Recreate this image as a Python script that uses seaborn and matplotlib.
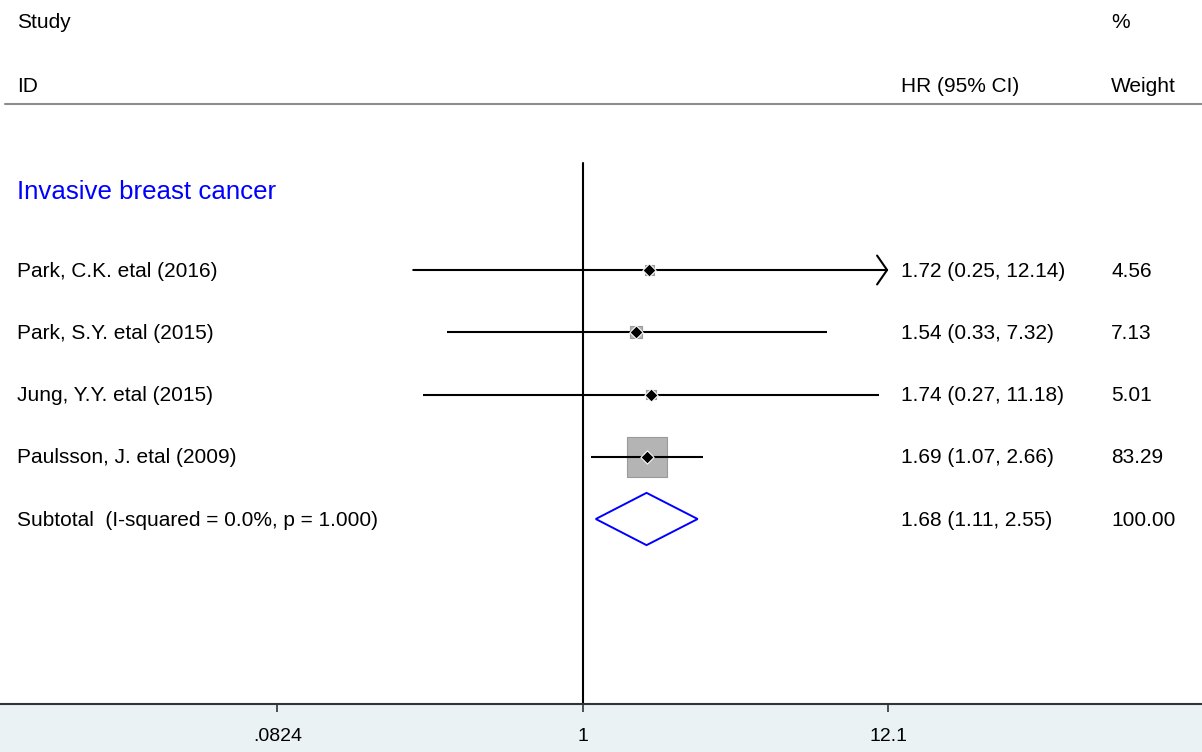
import numpy as np
import matplotlib
matplotlib.use('Agg')
import matplotlib.pyplot as plt
import matplotlib.transforms as mtransforms
from matplotlib.patches import Polygon
from matplotlib.ticker import NullLocator, FixedLocator, FixedFormatter
import seaborn as sns

# data
group_label = 'Invasive breast cancer'
studies = ['Park, C.K. etal (2016)', 'Park, S.Y. etal (2015)',
           'Jung, Y.Y. etal (2015)', 'Paulsson, J. etal (2009)']
hr = [1.72, 1.54, 1.74, 1.69]
ci_low = [0.25, 0.33, 0.27, 1.07]
ci_high = [12.14, 7.32, 11.18, 2.66]
weights = [4.56, 7.13, 5.01, 83.29]

subtotal_label = 'Subtotal  (I-squared = 0.0%, p = 1.000)'
subtotal_hr = 1.68
subtotal_low = 1.11
subtotal_high = 2.55
subtotal_weight = 100.00

tick_values = [0.0824, 1, 12.1]
tick_labels = ['.0824', '1', '12.1']

sns.set_theme(style='white')
plt.rcParams['font.family'] = ['Liberation Sans', 'DejaVu Sans']
plt.rcParams['text.color'] = 'black'
plt.rcParams['xtick.color'] = 'black'
fs = 15

W, H = 1202, 752
fig = plt.figure(figsize=(W / 100, H / 100), dpi=100, facecolor='#EAF2F3')
ax = fig.add_axes([0, 48 / H, 1, 704 / H])
ax.set_facecolor('white')

# log x axis: 1 sits at x=583 px, 282 px per decade
ax.set_xscale('log')
ax.set_xlim(10 ** (-583 / 282), 10 ** ((W - 583) / 282))
# rows: study 1 at 270 px, 62.25 px per row, axes 704 px tall
ax.set_ylim(1 + (704 - 270) / 62.25, 1 - 270 / 62.25)

rows = np.arange(1, len(studies) + 1)
sub_row = len(studies) + 1
clip = max(tick_values)

bt = mtransforms.blended_transform_factory(ax.transAxes, ax.transData)

def px(x):
    return x / W

def py(y):
    return 1 + (y - 270) / 62.25

# header
ax.text(px(17), py(23), 'Study', transform=bt, fontsize=fs, va='center')
ax.text(px(1111), py(23), '%', transform=bt, fontsize=fs, va='center')
ax.text(px(17), py(87), 'ID', transform=bt, fontsize=fs, va='center')
ax.text(px(901), py(87), 'HR (95% CI)', transform=bt, fontsize=fs, va='center')
ax.text(px(1111), py(87), 'Weight', transform=bt, fontsize=fs, va='center')
ax.axhline(py(104), xmin=px(5), xmax=1, color='#8c8c8c', lw=1.5)

ax.text(px(17), py(192), group_label, transform=bt,
        fontsize=18.6, color='#0000FF', va='center')

# null line
ax.axvline(1, ymin=0, ymax=(704 - 163) / 704, color='black', lw=1.5)

# weight boxes
side_pt = 40 * 0.72 * np.sqrt(np.array(weights) / max(weights))
sns.scatterplot(x=hr, y=rows, marker='s', s=side_pt ** 2, color='#B4B4B4',
                edgecolor='#9a9a9a', linewidth=0.8, ax=ax, zorder=2, legend=False)

# confidence intervals
for r, lo, hi in zip(rows, ci_low, ci_high):
    if hi > clip:
        ax.annotate('', xy=(clip, r), xytext=(lo, r),
                    arrowprops=dict(arrowstyle='->,head_length=0.36,head_width=0.52',
                                    color='black', lw=1.5, mutation_scale=20,
                                    shrinkA=0, shrinkB=0), zorder=3)
    else:
        ax.plot([lo, hi], [r, r], color='black', lw=1.5, zorder=3,
                solid_capstyle='butt')

# point estimates
sns.scatterplot(x=hr, y=rows, marker='D', s=45, color='black',
                edgecolor='white', linewidth=0.8, ax=ax, zorder=4, legend=False)

# pooled diamond
ax.add_patch(Polygon([(subtotal_low, sub_row), (subtotal_hr, sub_row - 0.42),
                      (subtotal_high, sub_row), (subtotal_hr, sub_row + 0.42)],
                     closed=True, fill=False, edgecolor='#0000FF', lw=1.4, zorder=4))

# text columns
for r, name, h, lo, hi, w in zip(rows, studies, hr, ci_low, ci_high, weights):
    ax.text(px(17), r + 0.02, name, transform=bt, fontsize=fs, va='center')
    ax.text(px(901), r + 0.02, f'{h:.2f} ({lo:.2f}, {hi:.2f})', transform=bt, fontsize=fs, va='center')
    ax.text(px(1111), r + 0.02, f'{w:.2f}', transform=bt, fontsize=fs, va='center')
ax.text(px(17), sub_row + 0.02, subtotal_label, transform=bt, fontsize=fs, va='center')
ax.text(px(901), sub_row + 0.02, f'{subtotal_hr:.2f} ({subtotal_low:.2f}, {subtotal_high:.2f})',
        transform=bt, fontsize=fs, va='center')
ax.text(px(1111), sub_row + 0.02, f'{subtotal_weight:.2f}', transform=bt, fontsize=fs, va='center')

# axes
for s in ['top', 'left', 'right']:
    ax.spines[s].set_visible(False)
ax.spines['bottom'].set_color('#333333')
ax.spines['bottom'].set_linewidth(1.5)
ax.xaxis.set_major_locator(FixedLocator(tick_values))
ax.xaxis.set_major_formatter(FixedFormatter(tick_labels))
ax.xaxis.set_minor_locator(NullLocator())
ax.tick_params(axis='x', bottom=True, direction='out', length=6, width=1.2,
               color='#333333', labelcolor='black', labelsize=14, pad=11)
ax.set_yticks([])

fig.savefig('out.png', dpi=100, facecolor=fig.get_facecolor())
